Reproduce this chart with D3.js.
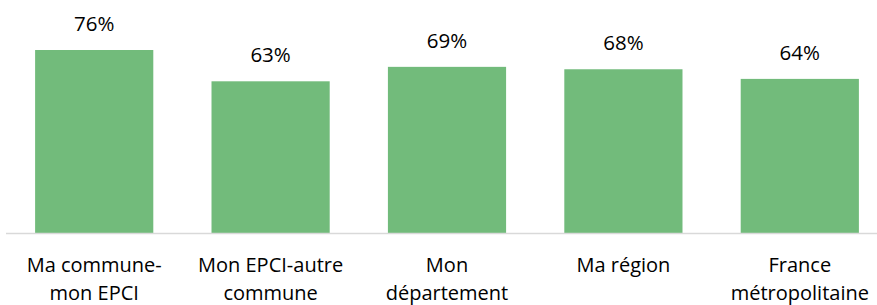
<!DOCTYPE html>
<html>
<head>
<meta charset="utf-8">
<style>
  body { margin: 0; background: #fff; }
  svg text { font-family: "Open Sans", sans-serif; fill: #000; }
</style>
</head>
<body>
<svg id="chart" width="877" height="305"></svg>
<script src="https://d3js.org/d3.v7.min.js"></script>
<script>

var categories = ["Ma commune-mon EPCI", "Mon EPCI-autre commune", "Mon département", "Ma région", "France métropolitaine"];
var labelLines = [["Ma commune-", "mon EPCI"], ["Mon EPCI-autre", "commune"], ["Mon", "département"], ["Ma région"], ["France", "métropolitaine"]];
var values = [76, 63, 69, 68, 64];

var svg = d3.select("#chart"),
    baseY = 233;

var x = d3.scaleBand()
    .domain(categories)
    .range([6, 888])
    .paddingInner(0.33)
    .paddingOuter(0.165);

var y = d3.scaleLinear()
    .domain([0, 76])
    .range([baseY, 50]);

svg.selectAll("rect.bar")
    .data(values)
  .enter().append("rect")
    .attr("class", "bar")
    .attr("x", function(d, i) { return x(categories[i]); })
    .attr("y", function(d) { return y(d); })
    .attr("width", x.bandwidth())
    .attr("height", function(d) { return baseY - y(d); })
    .attr("fill", "#72bb7b");

// axis line
svg.append("line")
    .attr("x1", 6).attr("x2", 877)
    .attr("y1", baseY + 0.5).attr("y2", baseY + 0.5)
    .attr("stroke", "#d9d9d9")
    .attr("stroke-width", 1.5);

// value labels
svg.selectAll("text.val")
    .data(values)
  .enter().append("text")
    .attr("class", "val")
    .attr("x", function(d, i) { return x(categories[i]) + x.bandwidth() / 2; })
    .attr("y", function(d) { return y(d) - 19; })
    .attr("text-anchor", "middle")
    .style("font-size", "20.5px")
    .text(function(d) { return d + "%"; });

// category labels
var cat = svg.selectAll("text.cat")
    .data(labelLines)
  .enter().append("text")
    .attr("class", "cat")
    .attr("text-anchor", "middle")
    .style("font-size", "20px")
    .attr("transform", function(d, i) { return "translate(" + (x(categories[i]) + x.bandwidth() / 2) + ",272)"; });

cat.selectAll("tspan")
    .data(function(d) { return d; })
  .enter().append("tspan")
    .attr("x", 0)
    .attr("y", function(d, i) { return i * 28; })
    .text(function(d) { return d; });

</script>
</body>
</html>
